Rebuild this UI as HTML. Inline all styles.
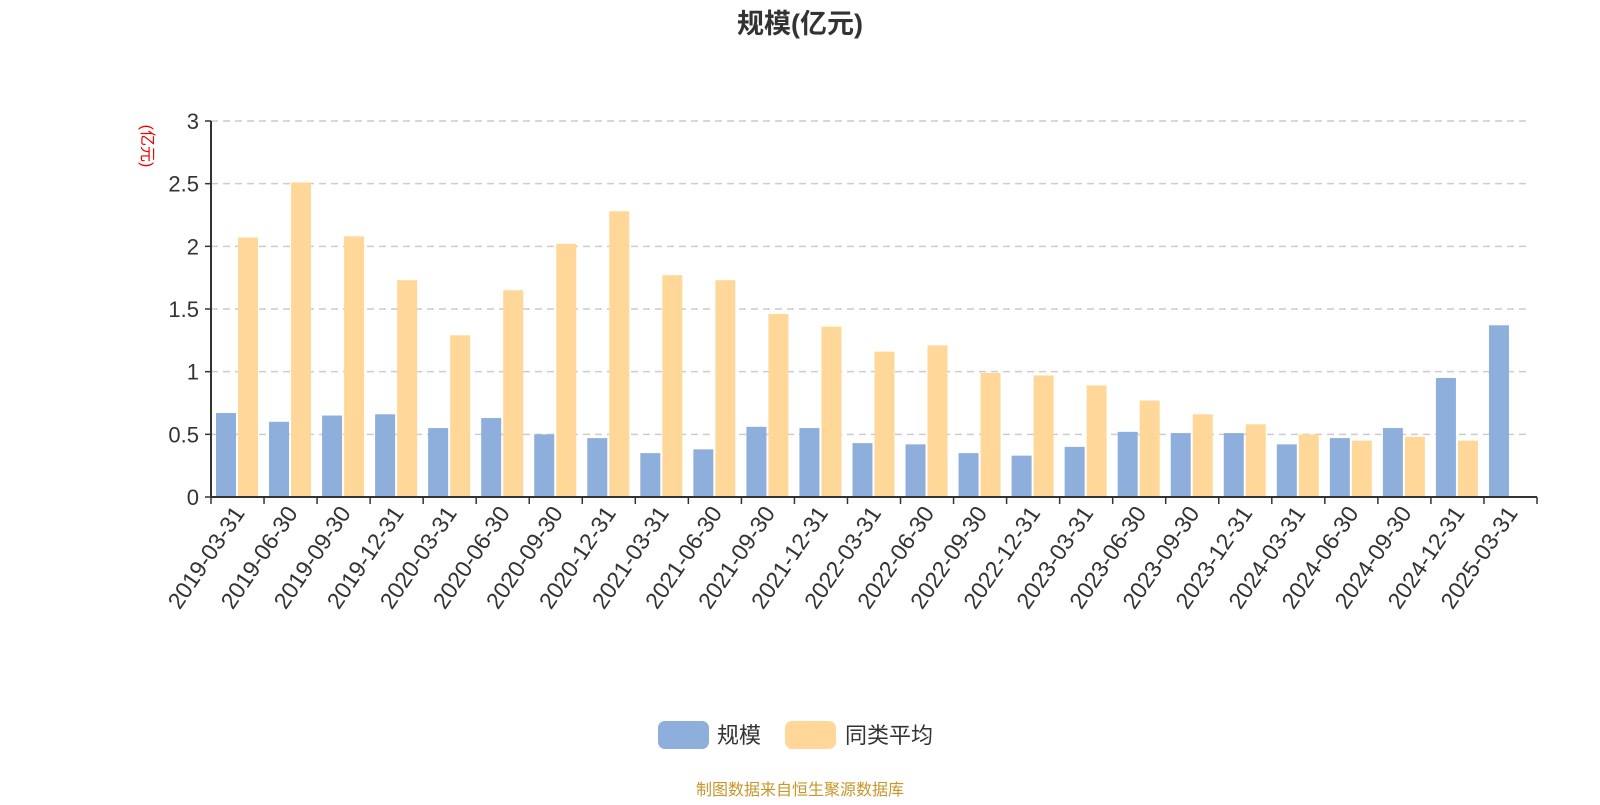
<!DOCTYPE html>
<html><head><meta charset="utf-8"><style>
body{margin:0;background:#fff;font-family:"Liberation Sans","Noto Sans CJK SC",sans-serif;}
</style></head><body>
<svg id="chart" width="1600" height="800" xmlns="http://www.w3.org/2000/svg" font-family="Liberation Sans, Noto Sans CJK SC, sans-serif">
<text x="800" y="33" text-anchor="middle" font-size="27" font-weight="bold" fill="#333">规模(亿元)</text>
<text transform="translate(142,146) rotate(90)" text-anchor="middle" font-size="16" fill="#e00">(亿元)</text>
<g id="grid"></g><g id="bars"></g><g id="axes"></g>
<g>
<rect x="658" y="721" width="51" height="28" rx="7" fill="#8eaedb"/>
<text x="717" y="743" font-size="22" fill="#333">规模</text>
<rect x="785" y="721" width="51" height="28" rx="7" fill="#ffd899"/>
<text x="845" y="743" font-size="22" fill="#333">同类平均</text>
</g>
<text x="800" y="795" text-anchor="middle" font-size="16" fill="#c8962a">制图数据来自恒生聚源数据库</text>
</svg>
<script>
const categories=["2019-03-31","2019-06-30","2019-09-30","2019-12-31","2020-03-31","2020-06-30","2020-09-30","2020-12-31","2021-03-31","2021-06-30","2021-09-30","2021-12-31","2022-03-31","2022-06-30","2022-09-30","2022-12-31","2023-03-31","2023-06-30","2023-09-30","2023-12-31","2024-03-31","2024-06-30","2024-09-30","2024-12-31","2025-03-31"];
const scaleValues=[0.67,0.60,0.65,0.66,0.55,0.63,0.50,0.47,0.35,0.38,0.56,0.55,0.43,0.42,0.35,0.33,0.40,0.52,0.51,0.51,0.42,0.47,0.55,0.95,1.37];
const avgValues=[2.07,2.51,2.08,1.73,1.29,1.65,2.02,2.28,1.77,1.73,1.46,1.36,1.16,1.21,0.99,0.97,0.89,0.77,0.66,0.58,0.50,0.45,0.48,0.45,null];
const yTicks=[0,0.5,1,1.5,2,2.5,3];
const yTickLabels=["0","0.5","1","1.5","2","2.5","3"];
const NS="http://www.w3.org/2000/svg";
const X0=211,X1=1537,Y0=497,Y3=121,YMAX=3;
const bw=(X1-X0)/categories.length;
const y=v=>Y0-(v/YMAX)*(Y0-Y3);
const x=i=>X0+i*bw;
function mk(tag,attrs,parent){const e=document.createElementNS(NS,tag);for(const k in attrs)e.setAttribute(k,attrs[k]);parent.appendChild(e);return e;}
const grid=document.getElementById('grid'),bars=document.getElementById('bars'),axes=document.getElementById('axes');
yTicks.forEach((t,i)=>{
  if(t>0){const l=mk('line',{x1:X0,x2:X1-7,y1:y(t),y2:y(t),stroke:'#ccc','stroke-width':'1.5','stroke-dasharray':'7,5'},grid);
  }
  const tk=mk('line',{x1:X0-6,x2:X0,y1:y(t),y2:y(t),stroke:'#333','stroke-width':'1.5'},axes);
  
  const tx=mk('text',{x:X0-12,y:y(t)+8,'text-anchor':'end','font-size':'22',fill:'#333'},axes);
  tx.textContent=yTickLabels[i];
  
});
categories.forEach((c,i)=>{
  if(scaleValues[i]!=null){const r=mk('rect',{x:x(i)+5,y:y(scaleValues[i]),width:20,height:Y0-y(scaleValues[i]),fill:'#8eaedb'},bars);
  }
  if(avgValues[i]!=null){const r=mk('rect',{x:x(i)+27,y:y(avgValues[i]),width:20,height:Y0-y(avgValues[i]),fill:'#ffd899'},bars);
  }
  const cx=x(i)+bw/2;
  const tx=mk('text',{x:0,y:0,'text-anchor':'end','font-size':'23',fill:'#333',transform:`translate(${cx+8},${Y0+16}) rotate(-56)`},axes);
  tx.textContent=c;
  
});
for(let i=0;i<=categories.length;i++){const tk=mk('line',{x1:x(i),x2:x(i),y1:Y0,y2:Y0+7,stroke:'#333','stroke-width':'1.5'},axes);
}
const xa=mk('line',{x1:X0,x2:X1,y1:Y0,y2:Y0,stroke:'#333','stroke-width':'2'},axes);

const ya=mk('line',{x1:X0,x2:X0,y1:Y3,y2:Y0,stroke:'#333','stroke-width':'2'},axes);

</script>
</body></html>
